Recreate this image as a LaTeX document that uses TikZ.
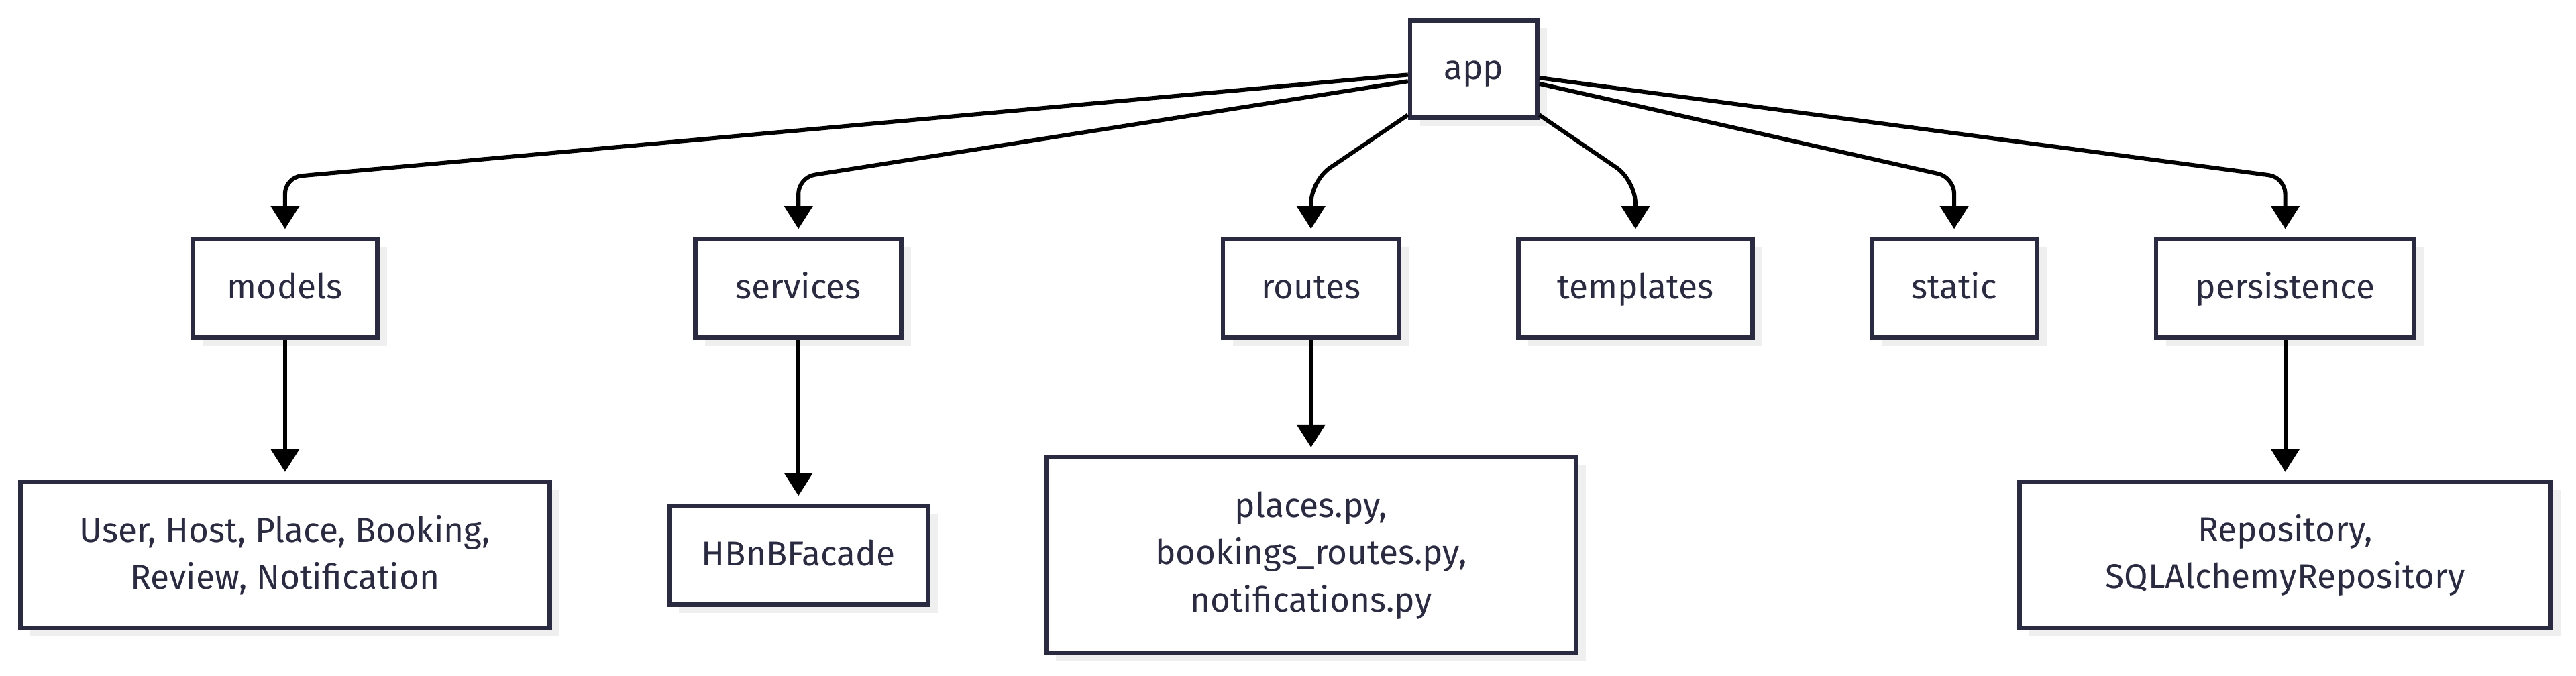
\documentclass[tikz,border=0pt]{standalone}
\usepackage{fontspec}
\setmainfont{Fira Sans}
\usepackage{tikz}
\usetikzlibrary{arrows.meta, shadows}
\definecolor{boxline}{HTML}{2A2A40}
\definecolor{boxshadow}{HTML}{EFEFEF}
\tikzset{
  every block/.style={
    rectangle,
    draw=boxline,
    fill=white,
    text=boxline
  },
}
\tikzstyle{block} = [every block, line width=2.7pt, inner sep=0pt, align=center, font=\fontsize{21}{28.8}\selectfont, drop shadow={shadow xshift=6pt, shadow yshift=-5pt, fill=boxshadow, opacity=1}]
\tikzstyle{oneline} = [text height=17pt, text depth=4pt]
\tikzstyle{arrow} = [line width=2.5pt, -{Triangle[length=14pt, width=17pt]}, shorten >=4.6pt]

\begin{document}
\begin{tikzpicture}[x=1pt, y=-1pt, node distance=162.5pt]
        \useasboundingbox (0,0) rectangle (1568,411.6);
        % blocks
        \node [block, oneline, minimum width=77.3pt, minimum height=59.3pt] (app) at (897,42) {app};
        \node [block, oneline, minimum width=112.3pt, minimum height=60.3pt] (models) at (173.5,175.5) {models};
        \node [block, oneline, minimum width=125.3pt, minimum height=60.3pt] (services) at (486,175.5) {services};
        \node [block, oneline, minimum width=107.3pt, minimum height=60.3pt] (routes) at (798,175.5) {routes};
        \node [block, oneline, minimum width=142.3pt, minimum height=60.3pt] (templates) at (995.5,175.5) {templates};
        \node [block, oneline, minimum width=100.3pt, minimum height=60.3pt] (static) at (1189.5,175.5) {static};
        \node [block, oneline, minimum width=157.3pt, minimum height=60.3pt] (persistence) at (1391,175.5) {persistence};
        \node [block, below of=models, minimum width=322.3pt, minimum height=89.3pt] (entities) {User, Host, Place, Booking,\\Review, Notification};
        \node [block, oneline, below of=services, minimum width=157.3pt, minimum height=60.3pt] (facade) {HBnBFacade};
        \node [block, below of=routes, minimum width=322.3pt, minimum height=119.3pt] (endpoints) {places.py,\\bookings\_routes.py,\\notifications.py};
        \node [block, below of=persistence, minimum width=323.3pt, minimum height=89.3pt] (repos) {Repository,\\SQLAlchemyRepository};

        % bends
        \coordinate (bend) at (0,108);
        \coordinate (bendmid) at (0,110);

        % arrows
        \draw [arrow, rounded corners=10pt] ([yshift=-3.5pt]app.west) -- (models.north |- bend) -- (models.north);
        \draw [arrow, rounded corners=10pt] ([yshift=-7.5pt]app.west) -- (services.north |- bend) -- (services.north);
        \draw [arrow, rounded corners=14pt] ([yshift=3pt]app.south west) -- (routes.north |- bendmid) -- (routes.north);
        \draw [arrow, rounded corners=14pt] ([yshift=3pt]app.south east) -- (templates.north |- bendmid) -- (templates.north);
        \draw [arrow, rounded corners=10pt] ([yshift=-9pt]app.east) -- (static.north |- bend) -- (static.north);
        \draw [arrow, rounded corners=10pt] ([yshift=-5.4pt]app.east) -- (persistence.north |- bend) -- (persistence.north);
        \draw [arrow] (models) -- (entities);
        \draw [arrow] (services) -- (facade);
        \draw [arrow] (routes) -- (endpoints);
        \draw [arrow] (persistence) -- (repos);
\end{tikzpicture}
\end{document}
